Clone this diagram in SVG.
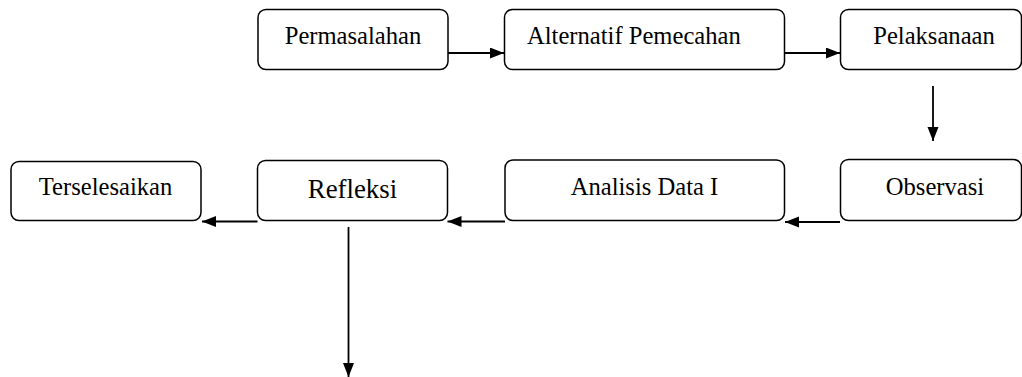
<svg xmlns="http://www.w3.org/2000/svg" width="1022" height="377" viewBox="0 0 1022 377">
  <style>
    .box { fill: #ffffff; stroke: #000000; stroke-width: 1.5; }
    .lbl { font-family: "Liberation Serif", "Times New Roman", serif; font-size: 24.6px; fill: #000000; }
    .big { font-size: 26.8px; }
    .conn { stroke: #000000; stroke-width: 1.8; fill: none; }
  </style>
  <defs>
    <marker id="arrow" markerUnits="userSpaceOnUse" markerWidth="15" markerHeight="12" refX="14" refY="5.5" orient="auto">
      <path d="M0,0 L14,5.5 L0,11 z" fill="#000000"/>
    </marker>
  </defs>
  <rect width="1022" height="377" fill="#ffffff"/>

  <g id="node-permasalahan">
    <rect class="box" x="258" y="9.5" width="190" height="60" rx="8" ry="8"/>
    <text class="lbl" x="353" y="44" text-anchor="middle">Permasalahan</text>
  </g>
  <g id="node-alternatif">
    <rect class="box" x="504.5" y="9.5" width="280" height="60" rx="8" ry="8"/>
    <text class="lbl" x="527" y="44">Alternatif Pemecahan</text>
  </g>
  <g id="node-pelaksanaan">
    <rect class="box" x="840.5" y="9.5" width="181" height="60" rx="8" ry="8"/>
    <text class="lbl" x="934" y="44" text-anchor="middle">Pelaksanaan</text>
  </g>
  <g id="node-observasi">
    <rect class="box" x="840.5" y="159.5" width="181" height="61" rx="8" ry="8"/>
    <text class="lbl" x="935" y="195" text-anchor="middle">Observasi</text>
  </g>
  <g id="node-analisis">
    <rect class="box" x="505" y="160" width="279.5" height="60.5" rx="8" ry="8"/>
    <text class="lbl" x="644.5" y="195" text-anchor="middle">Analisis Data I</text>
  </g>
  <g id="node-refleksi">
    <rect class="box" x="257.5" y="160.5" width="190" height="60" rx="8" ry="8"/>
    <text class="lbl big" x="352.5" y="198" text-anchor="middle">Refleksi</text>
  </g>
  <g id="node-terselesaikan">
    <rect class="box" x="11" y="161.5" width="190" height="59" rx="8" ry="8"/>
    <text class="lbl" x="105.5" y="195" text-anchor="middle">Terselesaikan</text>
  </g>

  <g id="connectors">
    <line class="conn" x1="448" y1="53" x2="504" y2="53" marker-end="url(#arrow)"/>
    <line class="conn" x1="785" y1="53" x2="840" y2="53" marker-end="url(#arrow)"/>
    <line class="conn" x1="933" y1="86" x2="933" y2="141" marker-end="url(#arrow)"/>
    <line class="conn" x1="840" y1="222" x2="785" y2="222" marker-end="url(#arrow)"/>
    <line class="conn" x1="505" y1="221.5" x2="447.5" y2="221.5" marker-end="url(#arrow)"/>
    <line class="conn" x1="257.5" y1="221.5" x2="202" y2="221.5" marker-end="url(#arrow)"/>
    <line class="conn" x1="348.5" y1="227" x2="348.5" y2="377" marker-end="url(#arrow)"/>
  </g>
</svg>
